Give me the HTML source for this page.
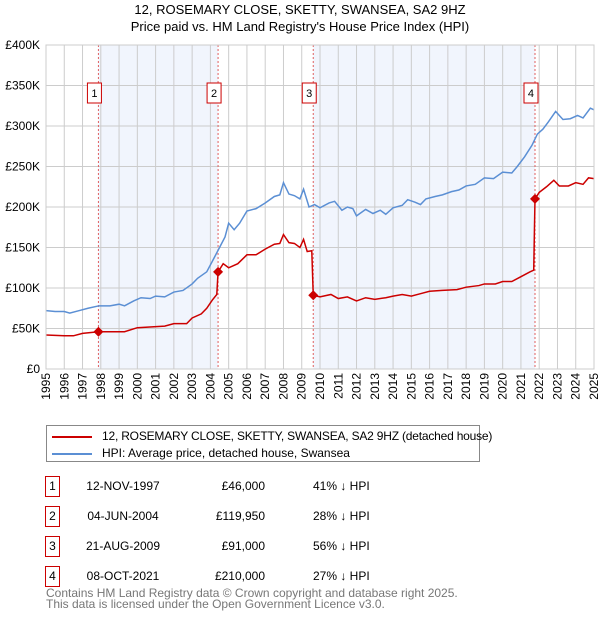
<!DOCTYPE html>
<html><head><meta charset="utf-8">
<style>
body{margin:0;background:#fff;font-family:"Liberation Sans","DejaVu Sans",sans-serif;}
#wrap{position:relative;width:600px;height:620px;overflow:hidden;}
.t{position:absolute;font-size:12px;color:#000;white-space:nowrap;}
</style></head>
<body><div id="wrap">
<div class="t" style="left:0;width:600px;text-align:center;top:2px;font-size:13px">12, ROSEMARY CLOSE, SKETTY, SWANSEA, SA2 9HZ</div>
<div class="t" style="left:0;width:600px;text-align:center;top:19px;font-size:13px">Price paid vs. HM Land Registry's House Price Index (HPI)</div>
<svg id="chart" width="600" height="415" style="position:absolute;left:0;top:0" font-family="Liberation Sans, DejaVu Sans, sans-serif"></svg>
<div style="position:absolute;left:46px;top:425px;width:432px;height:35px;border:1px solid #888;">
 <div style="position:absolute;left:5px;top:3px;font-size:12px;white-space:nowrap;letter-spacing:-0.2px"><span style="display:inline-block;width:40px;height:2px;background:#cc0000;vertical-align:middle;margin-right:10px"></span>12, ROSEMARY CLOSE, SKETTY, SWANSEA, SA2 9HZ (detached house)</div>
 <div style="position:absolute;left:5px;top:20px;font-size:12px;white-space:nowrap"><span style="display:inline-block;width:40px;height:2px;background:#5b8fd4;vertical-align:middle;margin-right:10px"></span>HPI: Average price, detached house, Swansea</div>
</div>
<div id="rows"></div>
<div class="t" style="left:46px;top:588px;color:#777;font-size:12px;line-height:11px">Contains HM Land Registry data © Crown copyright and database right 2025.<br>This data is licensed under the Open Government Licence v3.0.</div>
</div>
<script>
const hpiYears=[1995,1995.5,1996,1996.3,1996.8,1997.3,1997.9,1998.5,1999,1999.3,1999.8,2000.2,2000.7,2001,2001.5,2002,2002.5,2003,2003.3,2003.8,2004.2,2004.5,2004.8,2005,2005.3,2005.6,2006,2006.5,2007,2007.5,2007.8,2008,2008.3,2008.6,2008.9,2009.1,2009.4,2009.7,2010,2010.5,2010.8,2011.2,2011.5,2011.8,2012,2012.5,2012.9,2013.3,2013.6,2014,2014.5,2014.8,2015.2,2015.5,2015.8,2016.3,2016.7,2017.2,2017.6,2018,2018.5,2019,2019.5,2020,2020.5,2020.8,2021.2,2021.6,2021.9,2022.2,2022.5,2022.9,2023.3,2023.7,2024.1,2024.4,2024.8,2025];
const hpiValues=[72,71,71,69,72,75,78,78,80,78,84,88,87,90,89,95,97,105,112,120,137,150,163,180,172,180,195,198,205,213,215,230,216,214,210,222,200,203,199,205,207,196,200,198,189,197,192,196,191,199,202,209,206,203,210,213,215,219,221,226,228,236,235,243,242,250,262,276,290,296,305,318,308,309,313,310,322,320];
const priceYears=[1995,1996,1996.5,1997,1997.87,1998.5,1999.3,2000,2000.8,2001.5,2002,2002.7,2003,2003.5,2003.8,2004.1,2004.35,2004.42,2004.7,2005,2005.5,2006,2006.5,2007,2007.5,2007.8,2008,2008.3,2008.6,2008.9,2009.1,2009.3,2009.55,2009.63,2010,2010.6,2011,2011.5,2012,2012.5,2013,2013.6,2014,2014.5,2015,2015.5,2016,2016.7,2017.5,2018,2018.7,2019,2019.6,2020,2020.5,2021,2021.5,2021.7,2021.77,2022,2022.4,2022.8,2023.1,2023.6,2024,2024.4,2024.7,2025];
const priceValues=[42,41,41,44,46,46,46,51,52,53,56,56,63,68,75,85,92,120,130,125,130,141,141,148,154,155,166,156,155,150,160,145,146,91,89,92,87,89,84,88,86,88,90,92,90,93,96,97,98,101,103,105,105,108,108,114,120,122,210,218,225,233,226,226,230,228,236,235];
const saleYears=[1997.87,2004.42,2009.63,2021.77];
const saleValues=[46,119.95,91,210];
const saleLabels=["1","2","3","4"];
const yTicks=[0,50,100,150,200,250,300,350,400];
const yTickLabels=["£0","£50K","£100K","£150K","£200K","£250K","£300K","£350K","£400K"];
const xTicks=[1995,1996,1997,1998,1999,2000,2001,2002,2003,2004,2005,2006,2007,2008,2009,2010,2011,2012,2013,2014,2015,2016,2017,2018,2019,2020,2021,2022,2023,2024,2025];
const saleDates=["12-NOV-1997","04-JUN-2004","21-AUG-2009","08-OCT-2021"];
const salePrices=["£46,000","£119,950","£91,000","£210,000"];
const saleDiffs=["41% ↓ HPI","28% ↓ HPI","56% ↓ HPI","27% ↓ HPI"];

const L=46,R=594,T=45,B=369;
const xs=y=>L+(y-1995)/30*(R-L);
const ys=v=>B-v/400*(B-T);
const svg=document.getElementById('chart');
const NS='http://www.w3.org/2000/svg';
function mk(tag,attrs,parent){const e=document.createElementNS(NS,tag);for(const k in attrs)e.setAttribute(k,attrs[k]);(parent||svg).appendChild(e);return e;}
for(let i=0;i<saleYears.length;i+=2){
 const r=mk('rect',{x:xs(saleYears[i]),y:T,width:xs(saleYears[i+1])-xs(saleYears[i]),height:B-T,fill:'#eef3fc',opacity:0.8});
 
 
}
xTicks.forEach(t=>{
 const l=mk('line',{x1:xs(t),x2:xs(t),y1:T,y2:B,stroke:'#ccc','stroke-width':1});
 
 
 const tx=mk('text',{x:0,y:0,'font-size':12,transform:`translate(${xs(t)+4},${B+4}) rotate(-90)`,'text-anchor':'end'});
 tx.textContent=t;
 
 
});
yTicks.forEach((t,i)=>{
 const l=mk('line',{x1:L,x2:R,y1:ys(t),y2:ys(t),stroke:'#ccc','stroke-width':1});
 
 
 const tx=mk('text',{x:L-6,y:ys(t)+4,'font-size':12,'text-anchor':'end'});
 tx.textContent=yTickLabels[i];
 
 
});
saleYears.forEach((y,i)=>{
 const l=mk('line',{x1:xs(y),x2:xs(y),y1:T,y2:B,stroke:'#e06060','stroke-width':1,'stroke-dasharray':'2,2'});
 
 
});
const hp=mk('polyline',{points:hpiYears.map((y,i)=>xs(y)+','+ys(hpiValues[i])).join(' '),fill:'none',stroke:'#5b8fd4','stroke-width':1.5});


const pp=mk('polyline',{points:priceYears.map((y,i)=>xs(y)+','+ys(priceValues[i])).join(' '),fill:'none',stroke:'#cc0000','stroke-width':1.5});


saleYears.forEach((y,i)=>{
 const cx=xs(y),cy=ys(saleValues[i]);
 const d=mk('polygon',{points:`${cx},${cy-5} ${cx+5},${cy} ${cx},${cy+5} ${cx-5},${cy}`,fill:'#cc0000'});
 
 
 const b=mk('rect',{x:cx-11,y:83,width:14,height:20,fill:'#fff',stroke:'#cc0000','stroke-width':1});
 
 
 const t=mk('text',{x:cx-4,y:97,'font-size':11,'text-anchor':'middle'});
 t.textContent=saleLabels[i];
 
 
});
mk('rect',{x:L,y:T,width:R-L,height:B-T,fill:'none',stroke:'#ccc'});
const rows=document.getElementById('rows');
saleLabels.forEach((s,i)=>{
 const top=476+i*30;
 const d=document.createElement('div');
 
 
 d.style.cssText=`position:absolute;left:0;top:${top}px;width:600px;height:21px;font-size:12px;`;
 d.innerHTML=`<div style="position:absolute;left:45px;top:0;width:13px;height:19px;border:1px solid #cc0000;text-align:center;line-height:19px">${s}</div>
 <div style="position:absolute;left:83px;width:80px;text-align:center;top:3px">${saleDates[i]}</div>
 <div style="position:absolute;left:185px;width:80px;text-align:right;top:3px">${salePrices[i]}</div>
 <div style="position:absolute;left:313px;top:3px">${saleDiffs[i]}</div>`;
 rows.appendChild(d);
});
</script>
</body></html>
